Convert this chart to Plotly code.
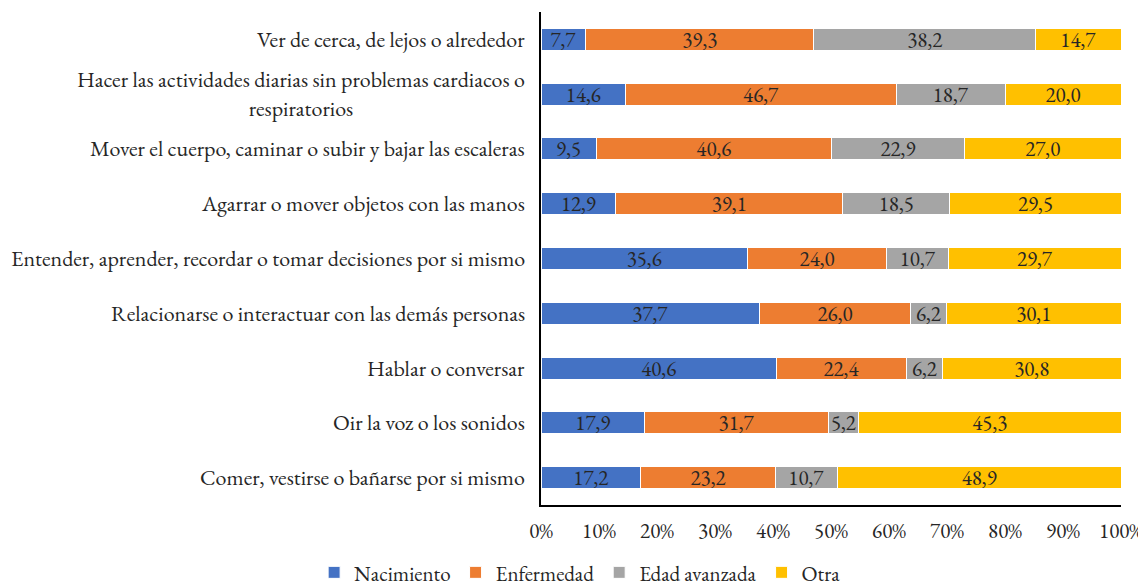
import plotly.graph_objects as go

categories = [
    "Ver de cerca, de lejos o alrededor",
    "Hacer las actividades diarias sin problemas cardiacos o<br>respiratorios",
    "Mover el cuerpo, caminar o subir y bajar las escaleras",
    "Agarrar o mover objetos con las manos",
    "Entender, aprender, recordar o tomar decisiones por si mismo",
    "Relacionarse o interactuar con las demás personas",
    "Hablar o conversar",
    "Oir la voz o los sonidos",
    "Comer, vestirse o bañarse por si mismo",
]
nacimiento = [7.7, 14.6, 9.5, 12.9, 35.6, 37.7, 40.6, 17.9, 17.2]
enfermedad = [39.3, 46.7, 40.6, 39.1, 24.0, 26.0, 22.4, 31.7, 23.2]
edad_avanzada = [38.2, 18.7, 22.9, 18.5, 10.7, 6.2, 6.2, 5.2, 10.7]
otra = [14.7, 20.0, 27.0, 29.5, 29.7, 30.1, 30.8, 45.3, 48.9]

series = [
    ("Nacimiento", nacimiento, "#4472C4"),
    ("Enfermedad", enfermedad, "#ED7D31"),
    ("Edad avanzada", edad_avanzada, "#A5A5A5"),
    ("Otra", otra, "#FFC000"),
]

FONT = "EB Garamond, Garamond, Liberation Serif, serif"
FS = 21
TXT = "#262626"
fig = go.Figure()
for name, vals, color in series:
    fig.add_trace(go.Bar(
        y=categories, x=vals, name=name, orientation="h",
        marker=dict(color=color, line=dict(color="white", width=1)),
        text=[f"{v:.1f}".replace(".", ",") for v in vals],
        textposition="inside", insidetextanchor="middle", textangle=0,
        textfont=dict(family=FONT, size=FS, color=TXT),
        constraintext="none",
    ))

for c in categories:
    fig.add_annotation(
        x=0, xref="paper", y=c, yref="y", xanchor="right", yanchor="middle",
        xshift=-14, text=c, showarrow=False, align="center",
        font=dict(family=FONT, size=22, color=TXT),
    )

# page body has an 8px default margin, so the figure is offset by 8px
fig.update_layout(
    barmode="stack", barnorm="percent", bargap=0.6,
    width=1138, height=578,
    margin=dict(l=533, r=25, t=4, b=81, autoexpand=False),
    plot_bgcolor="white", paper_bgcolor="white",
    font=dict(family=FONT, size=FS, color=TXT),
    uniformtext=dict(minsize=FS, mode="show"),
    legend=dict(orientation="h", xref="container", x=0.269, xanchor="left",
                yref="container", y=0.023, yanchor="middle",
                traceorder="normal",
                font=dict(family=FONT, size=FS, color=TXT),
                itemwidth=30, tracegroupgap=0),
    xaxis=dict(range=[0, 100], dtick=10, ticksuffix="%", showgrid=False,
               showline=True, linecolor="black", linewidth=2, ticks="",
               ticklabelstandoff=6, zeroline=False,
               tickfont=dict(family=FONT, size=FS, color=TXT)),
    yaxis=dict(autorange="reversed", showticklabels=False, showline=True,
               linecolor="black", linewidth=2, showgrid=False, ticks=""),
)

fig.write_html("out.html")
